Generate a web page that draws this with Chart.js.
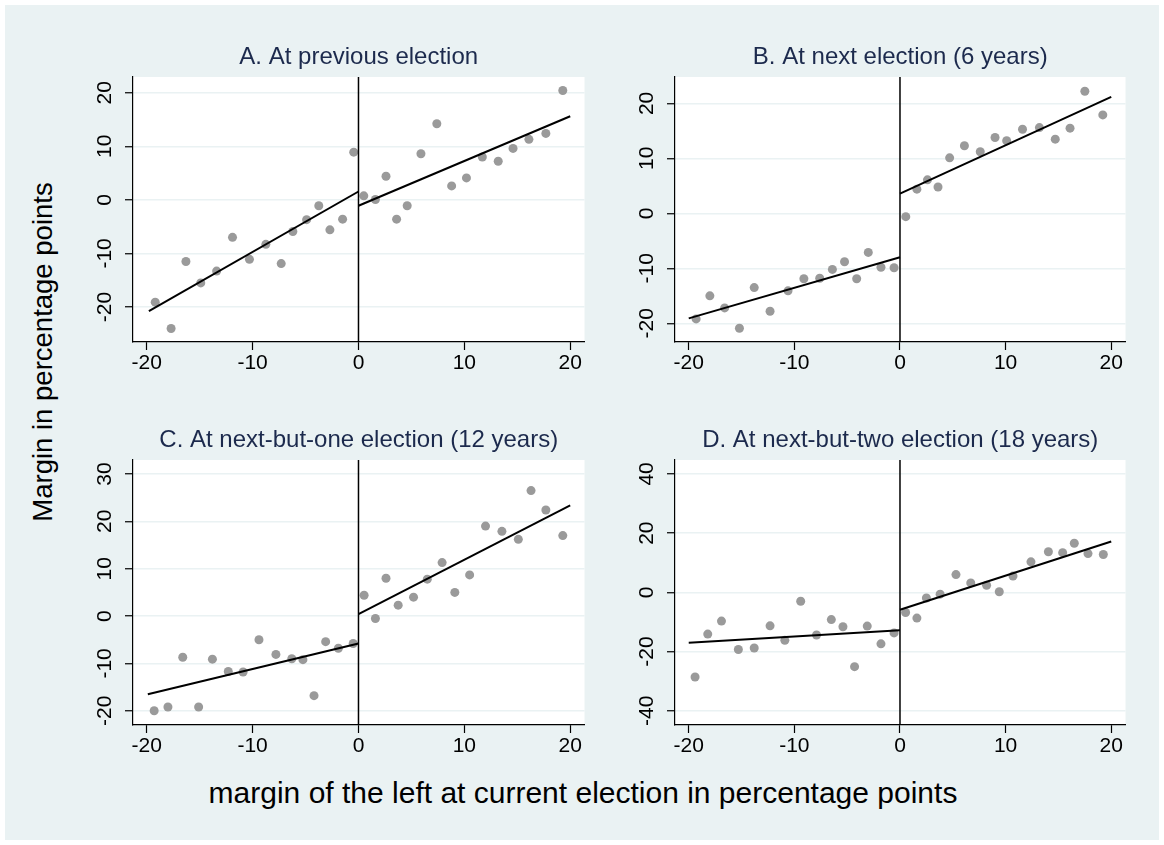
<!DOCTYPE html>
<html lang="en">
<head>
    <meta charset="UTF-8">
    <title>Margin in percentage points, four elections</title>
    <script src="https://cdn.jsdelivr.net/npm/chart.js"></script>
    <style>
        body {
            margin: 0;
            background-color: #ffffff;
            overflow: hidden;
            font-family: "Liberation Sans", Arial, sans-serif;
        }
        #frame {
            position: absolute;
            left: 5px;
            top: 5px;
            width: 1154px;
            height: 835px;
            background-color: #eaf2f3;
        }
        canvas {
            position: absolute;
        }
        .axis-title {
            position: absolute;
            color: #000;
            white-space: nowrap;
        }
        #xTitle {
            left: 583px;
            top: 793px;
            font-size: 30px;
            transform: translate(-50%, -50%);
        }
        #yTitle {
            left: 43px;
            top: 352px;
            font-size: 27.5px;
            transform: translate(-50%, -50%) rotate(-90deg);
        }
    </style>
</head>
<body>
    <div id="frame"></div>
    <canvas id="panelA" width="509" height="352" style="left:80px; top:30px;"></canvas>
    <canvas id="panelB" width="508" height="352" style="left:622px; top:30px;"></canvas>
    <canvas id="panelC" width="509" height="352" style="left:80px; top:413px;"></canvas>
    <canvas id="panelD" width="508" height="352" style="left:622px; top:413px;"></canvas>
    <div class="axis-title" id="yTitle">Margin in percentage points</div>
    <div class="axis-title" id="xTitle">margin of the left at current election in percentage points</div>

    <script>
        // shared x axis ticks
        const xTicks = [-20, -10, 0, 10, 20];

        // A. At previous election
        const xA = [-19.2, -17.7, -16.3, -14.9, -13.4, -11.9, -10.3, -8.75, -7.3, -6.2, -4.9, -3.75, -2.7, -1.5, -0.45,
                    0.5, 1.6, 2.6, 3.6, 4.6, 5.9, 7.4, 8.8, 10.2, 11.7, 13.2, 14.6, 16.1, 17.7, 19.3];
        const yA = [-19.1, -24.0, -11.5, -15.5, -13.3, -7.0, -11.1, -8.3, -11.9, -5.9, -3.7, -1.1, -5.6, -3.6, 8.9,
                    0.75, 0.06, 4.4, -3.6, -1.1, 8.6, 14.2, 2.6, 4.1, 8.0, 7.2, 9.6, 11.3, 12.4, 20.4];
        const fitLeftA = [[-19.8, -20.75], [0, 1.56]];
        const fitRightA = [[0, -1.1], [20, 15.6]];
        const yTicksA = [-20, -10, 0, 10, 20];

        // B. At next election (6 years)
        const xB = [-19.3, -18.0, -16.6, -15.2, -13.8, -12.3, -10.6, -9.1, -7.6, -6.4, -5.25, -4.1, -3.0, -1.8, -0.56,
                    0.55, 1.6, 2.6, 3.6, 4.7, 6.1, 7.6, 9.0, 10.1, 11.6, 13.2, 14.7, 16.1, 17.5, 19.2];
        const yB = [-19.2, -15.0, -17.2, -20.9, -13.5, -17.8, -14.1, -11.9, -11.8, -10.2, -8.8, -11.9, -7.1, -9.8, -9.9,
                    -0.6, 4.4, 6.1, 4.8, 10.1, 12.3, 11.2, 13.8, 13.2, 15.3, 15.6, 13.5, 15.5, 22.2, 17.9];
        const fitLeftB = [[-20, -19.1], [0, -8.0]];
        const fitRightB = [[0, 3.6], [20, 21.2]];
        const yTicksB = [-20, -10, 0, 10, 20];

        // C. At next-but-one election (12 years)
        const xC = [-19.3, -18.0, -16.6, -15.1, -13.8, -12.3, -10.9, -9.4, -7.8, -6.3, -5.25, -4.2, -3.1, -1.9, -0.5,
                    0.53, 1.6, 2.6, 3.75, 5.2, 6.5, 7.9, 9.1, 10.5, 12.0, 13.55, 15.1, 16.3, 17.7, 19.3];
        const yC = [-20.0, -19.2, -8.7, -19.2, -9.1, -11.7, -11.8, -5.0, -8.1, -9.0, -9.2, -16.8, -5.4, -6.8, -5.8,
                    4.4, -0.5, 8.0, 2.3, 4.0, 7.8, 11.3, 5.0, 8.7, 19.0, 17.9, 16.2, 26.5, 22.4, 17.0];
        const fitLeftC = [[-19.9, -16.5], [0, -5.8]];
        const fitRightC = [[0, 0.4], [20, 23.4]];
        const yTicksC = [-20, -10, 0, 10, 20, 30];

        // D. At next-but-two election (18 years)
        const xD = [-19.4, -18.2, -16.9, -15.3, -13.8, -12.3, -10.9, -9.4, -7.9, -6.5, -5.4, -4.3, -3.1, -1.8, -0.56,
                    0.53, 1.6, 2.5, 3.8, 5.3, 6.7, 8.2, 9.4, 10.7, 12.4, 14.05, 15.4, 16.5, 17.8, 19.25];
        const yD = [-28.6, -14.1, -9.7, -19.3, -18.8, -11.3, -16.2, -3.0, -14.4, -9.2, -11.6, -25.1, -11.4, -17.4, -13.7,
                    -6.8, -8.7, -1.9, -0.6, 6.0, 3.2, 2.4, 0.2, 5.5, 10.3, 13.7, 13.4, 16.6, 13.1, 12.8];
        const fitLeftD = [[-20, -17.0], [0, -12.8]];
        const fitRightD = [[0, -5.9], [20, 17.2]];
        const yTicksD = [-40, -20, 0, 20, 40];

        const FONT = '"Liberation Sans", Arial, sans-serif';

        // white plot region inside the light frame
        const plotBg = {
            id: 'plotBg',
            beforeDraw(chart) {
                const a = chart.chartArea;
                const ctx = chart.ctx;
                ctx.save();
                ctx.fillStyle = '#ffffff';
                ctx.fillRect(a.left, a.top, a.right - a.left, a.bottom - a.top);
                ctx.restore();
            }
        };

        function toPoints(pairs) {
            return pairs.map(p => ({ x: p[0], y: p[1] }));
        }

        function makePanel(id, title, xs, ys, fitLeft, fitRight, yMin, yMax, yTicks) {
            const lineStyle = {
                type: 'line',
                showLine: true,
                borderColor: '#000',
                borderWidth: 2,
                pointRadius: 0,
                fill: false,
            };
            new Chart(document.getElementById(id).getContext('2d'), {
                type: 'scatter',
                data: {
                    datasets: [
                        Object.assign({ data: toPoints(fitLeft) }, lineStyle),
                        Object.assign({ data: toPoints(fitRight) }, lineStyle),
                        Object.assign({ data: [{ x: 0, y: yMin }, { x: 0, y: yMax }] }, lineStyle, { borderWidth: 1.5 }),
                        {
                            data: xs.map((x, i) => ({ x: x, y: ys[i] })),
                            backgroundColor: '#9a9a9a',
                            borderWidth: 0,
                            pointRadius: 4.5,
                        },
                    ],
                },
                options: {
                    responsive: false,
                    animation: false,
                    devicePixelRatio: 1,
                    layout: { padding: 0 },
                    plugins: {
                        legend: { display: false },
                        tooltip: { enabled: false },
                        title: {
                            display: true,
                            text: title,
                            fullSize: false,
                            color: '#1c2a4d',
                            font: { family: FONT, size: 24, weight: 'normal' },
                            padding: { top: 12.6, bottom: 5.6 },
                        },
                    },
                    scales: {
                        x: {
                            type: 'linear',
                            min: -21.3,
                            max: 21.35,
                            afterBuildTicks: s => { s.ticks = xTicks.map(v => ({ value: v })); },
                            afterFit: s => { s.height = 40; },
                            grid: { drawOnChartArea: false, drawTicks: true, tickLength: 8, tickColor: '#000', tickWidth: 1.2 },
                            border: { display: true, color: '#000', width: 1.2 },
                            ticks: { color: '#000', padding: 1, font: { family: FONT, size: 21 }, maxRotation: 0 },
                        },
                        y: {
                            type: 'linear',
                            min: yMin,
                            max: yMax,
                            afterBuildTicks: s => { s.ticks = yTicks.map(v => ({ value: v })); },
                            afterFit: s => { s.width = 53; },
                            grid: { color: '#eaf2f3', lineWidth: 1.5, drawTicks: true, tickLength: 8, tickColor: '#000', tickWidth: 1.2 },
                            border: { display: true, color: '#000', width: 1.2 },
                            ticks: {
                                color: '#000',
                                padding: 5,
                                minRotation: 90,
                                maxRotation: 90,
                                crossAlign: 'center',
                                font: { family: FONT, size: 21 },
                            },
                        },
                    },
                },
                plugins: [plotBg],
            });
        }

        makePanel('panelA', 'A. At previous election', xA, yA, fitLeftA, fitRightA, -26.53, 22.93, yTicksA);
        makePanel('panelB', 'B. At next election (6 years)', xB, yB, fitLeftB, fitRightB, -23.4, 24.8, yTicksB);
        makePanel('panelC', 'C. At next-but-one election (12 years)', xC, yC, fitLeftC, fitRightC, -23.0, 32.96, yTicksC);
        makePanel('panelD', 'D. At next-but-two election (18 years)', xD, yD, fitLeftD, fitRightD, -44.8, 44.7, yTicksD);
    </script>
</body>
</html>
